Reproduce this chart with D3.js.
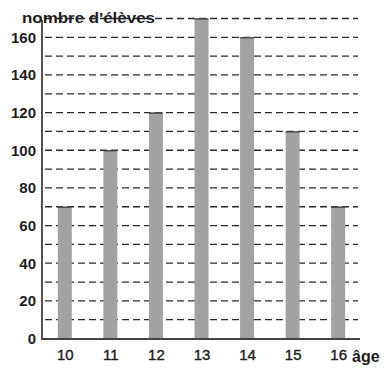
<!DOCTYPE html>
<html>
<head>
<meta charset="utf-8">
<script src="https://cdn.jsdelivr.net/npm/d3@7"></script>
<style>
  html, body { margin: 0; padding: 0; background: #fff; }
  svg { display: block; }
  text { font-family: "Liberation Sans", Arial, sans-serif; fill: #1e1e1e; }
</style>
</head>
<body>
<svg id="chart" width="388" height="371"></svg>
<script>
// Number of pupils per age
const ages = [10, 11, 12, 13, 14, 15, 16];
const pupils = [70, 100, 120, 170, 160, 110, 70];
const yTicks = [0, 20, 40, 60, 80, 100, 120, 140, 160];
const gridValues = [10, 20, 30, 40, 50, 60, 70, 80, 90, 100, 110, 120, 130, 140, 150, 160, 170];
const yTitle = "nombre d'élèves";
const xTitle = "âge";

const svg = d3.select("#chart");

const x = d3.scalePoint().domain(ages).range([42, 361]).padding(0.5);
const y = d3.scaleLinear().domain([0, 170]).range([338.5, 18.5]);

const barWidth = 14;

// dashed horizontal grid
svg.append("g")
  .selectAll("line")
  .data(gridValues)
  .join("line")
  .attr("x1", 45)
  .attr("x2", 358)
  .attr("y1", d => y(d))
  .attr("y2", d => y(d))
  .attr("stroke", "#2a2a2a")
  .attr("stroke-width", 1.3)
  .attr("stroke-dasharray", "7,4");

// bars
const bars = svg.append("g");
bars.selectAll("rect")
  .data(ages)
  .join("rect")
  .attr("x", d => x(d) - barWidth / 2)
  .attr("y", (d, i) => y(pupils[i]))
  .attr("width", barWidth)
  .attr("height", (d, i) => y(0) - y(pupils[i]))
  .attr("fill", "#a2a2a2");
bars.selectAll("line")
  .data(ages)
  .join("line")
  .attr("x1", d => x(d) - barWidth / 2)
  .attr("x2", d => x(d) + barWidth / 2)
  .attr("y1", (d, i) => y(pupils[i]) + 0.5)
  .attr("y2", (d, i) => y(pupils[i]) + 0.5)
  .attr("stroke", "#3a3a3a")
  .attr("stroke-width", 1.2);

// y axis
const yAxis = d3.axisLeft(y).tickValues(yTicks).tickSize(0).tickPadding(6);
const gy = svg.append("g").attr("transform", "translate(42,0)").call(yAxis);
gy.select(".domain").remove();
gy.selectAll("text")
  .attr("font-size", 15)
  .attr("font-weight", "bold")
  .attr("fill", "#1e1e1e");
svg.append("line")
  .attr("x1", 42).attr("x2", 42)
  .attr("y1", 20).attr("y2", y(0) + 1)
  .attr("stroke", "#555").attr("stroke-width", 2);

// x axis
const xAxis = d3.axisBottom(x).tickSize(0).tickPadding(11);
const gx = svg.append("g").attr("transform", `translate(0,${y(0)})`).call(xAxis);
gx.select(".domain").remove();
gx.selectAll("text")
  .attr("font-size", 15)
  .attr("fill", "#1e1e1e")
  .attr("stroke", "#1e1e1e")
  .attr("stroke-width", 0.4);
svg.append("line")
  .attr("x1", 41).attr("x2", 360)
  .attr("y1", y(0) + 0.5).attr("y2", y(0) + 0.5)
  .attr("stroke", "#444").attr("stroke-width", 2);

// axis titles
svg.append("text")
  .attr("x", 22).attr("y", 23)
  .attr("font-size", 15.5)
  .attr("font-weight", "bold")
  .attr("textLength", 133)
  .attr("lengthAdjust", "spacingAndGlyphs")
  .text(yTitle);
svg.append("text")
  .attr("x", 352).attr("y", 362)
  .attr("font-size", 16)
  .attr("font-weight", "bold")
  .text(xTitle);
</script>
</body>
</html>
